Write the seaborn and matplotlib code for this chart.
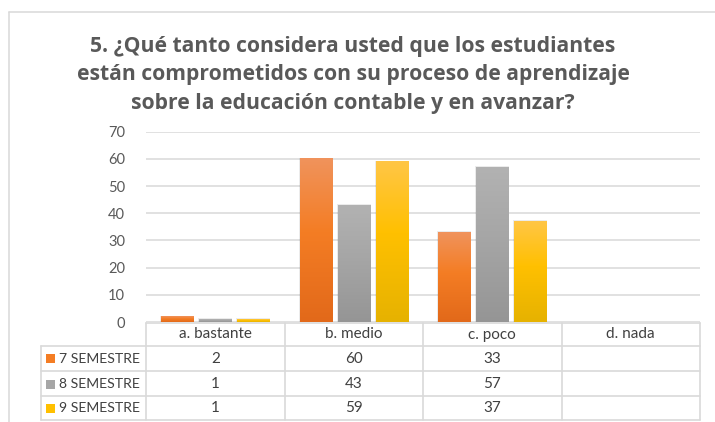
import numpy as np
import pandas as pd
import matplotlib
matplotlib.use("Agg")
import matplotlib.pyplot as plt
from matplotlib.colors import LinearSegmentedColormap
from matplotlib.lines import Line2D
from matplotlib.patches import Rectangle
import seaborn as sns

# ---- data ----
categories = ["a. bastante", "b. medio", "c. poco", "d. nada"]
series = ["7 SEMESTRE", "8 SEMESTRE", "9 SEMESTRE"]
sem7 = [2, 60, 33, np.nan]
sem8 = [1, 43, 57, np.nan]
sem9 = [1, 59, 37, np.nan]
y_ticks = [0, 10, 20, 30, 40, 50, 60, 70]
title_lines = ["5. ¿Qué tanto considera usted que los estudiantes",
               "están comprometidos con su proceso de aprendizaje",
               "sobre la educación contable y en avanzar?"]

base_colors = ["#ED7D31", "#A5A5A5", "#FFC000"]
grad_stops = [
    ["#E2691A", "#F47D24", "#F0935C"],  # bottom, mid, top
    ["#959595", "#A6A6A6", "#B2B2B2"],
    ["#E6B200", "#FFC000", "#FFC646"],
]

rows = []
for s, vals in zip(series, [sem7, sem8, sem9]):
    for c, v in zip(categories, vals):
        rows.append({"cat": c, "serie": s, "val": v})
df = pd.DataFrame(rows)

sns.set_theme(style="white")
plt.rcParams["font.family"] = ["Lato", "DejaVu Sans"]

W, H = 715, 422
fig = plt.figure(figsize=(W / 100, H / 100), dpi=100)
fig.patch.set_facecolor("white")

def fx(px):
    return px / W

def fy(py):
    return 1 - py / H

ax_left, ax_right, ax_top, ax_bot = 146, 700, 131.7, 322
ax = fig.add_axes([fx(ax_left), fy(ax_bot), fx(ax_right - ax_left), (ax_bot - ax_top) / H])

sns.barplot(data=df, x="cat", y="val", hue="serie", order=categories, hue_order=series,
            palette=base_colors, width=0.823, gap=0.157, ax=ax, legend=False,
            errorbar=None, saturation=1)

ax.set_xlim(-0.5, len(categories) - 0.5)
ax.set_ylim(0, 70)
ax.set_yticks(y_ticks)
ax.set_yticklabels([str(t) for t in y_ticks], color="#595959", fontsize=10.5)
ax.tick_params(axis="y", length=0, pad=15)
ax.set_xticks([])
ax.set_xlabel("")
ax.set_ylabel("")
for sp in ax.spines.values():
    sp.set_visible(False)
ax.grid(axis="y", color="#D9D9D9", linewidth=1.1)
ax.set_axisbelow(True)

# gradient bars
grad = np.linspace(0, 1, 256).reshape(-1, 1)
patches = list(ax.patches)
for i, p in enumerate(patches):
    h = p.get_height()
    if not np.isfinite(h) or h <= 0:
        continue
    color = p.get_facecolor()
    idx = int(np.argmin([np.sum((np.array(matplotlib.colors.to_rgb(c)) - np.array(color[:3])) ** 2)
                         for c in base_colors]))
    cmap = LinearSegmentedColormap.from_list("g%d" % i, [(0, grad_stops[idx][0]),
                                                         (0.55, grad_stops[idx][1]),
                                                         (1, grad_stops[idx][2])])
    x0 = p.get_x()
    x1 = x0 + p.get_width()
    ax.add_patch(Rectangle((x0 - 0.006, 0), p.get_width() + 0.012, h + 0.35,
                           facecolor="#000000", alpha=0.08, edgecolor="none", zorder=2))
    ax.imshow(grad, cmap=cmap, extent=(x0, x1, 0, h), origin="lower",
              aspect="auto", zorder=3, interpolation="bilinear")
    p.set_visible(False)
ax.set_xlim(-0.5, len(categories) - 0.5)
ax.set_ylim(0, 70)

# overlay for table, title, border
ov = fig.add_axes([0, 0, 1, 1], zorder=5)
ov.set_xlim(0, W)
ov.set_ylim(H, 0)
ov.axis("off")
ov.patch.set_alpha(0)

# outer chart border
ov.add_line(Line2D([9.3, 9.3], [11.7, H + 5], color="#D9D9D9", lw=1.1))
ov.add_line(Line2D([9.3, W + 5], [11.7, 11.7], color="#D9D9D9", lw=1.1))

# title
for k, line in enumerate(title_lines):
    ov.text(353, 52 + 28.3 * k, line, ha="center", va="baseline", fontsize=15.2,
            fontweight="bold", color="#595959", family=["Open Sans", "DejaVu Sans"])

# table
lc = "#D9D9D9"
col_bounds = [ax_left + (ax_right - ax_left) * k / len(categories) for k in range(len(categories) + 1)]
tab_left = 40.7
row_y = [322.5, 345.5, 371, 396, 419.5]
ov.add_line(Line2D([col_bounds[0], col_bounds[-1]], [row_y[0], row_y[0]], color=lc, lw=1.2))
for yy in row_y[1:]:
    ov.add_line(Line2D([tab_left, col_bounds[-1]], [yy, yy], color=lc, lw=1.2))
for xb in col_bounds:
    ov.add_line(Line2D([xb, xb], [row_y[0], row_y[-1]], color=lc, lw=1.2))
ov.add_line(Line2D([tab_left, tab_left], [row_y[1], row_y[-1]], color=lc, lw=1.2))

txt_color = "#404040"
for k, c in enumerate(categories):
    cx = (col_bounds[k] + col_bounds[k + 1]) / 2
    ov.text(cx, (row_y[0] + row_y[1]) / 2 + 0.5, c, ha="center", va="center",
            fontsize=11, color=txt_color)
for r, (s, vals) in enumerate(zip(series, [sem7, sem8, sem9])):
    cy = (row_y[r + 1] + row_y[r + 2]) / 2 + 0.5
    ov.add_patch(Rectangle((46.2, cy - 4.5), 9, 9, facecolor=grad_stops[r][1], edgecolor="none"))
    ov.text(59, cy, s, ha="left", va="center", fontsize=10.1, color=txt_color)
    for k, v in enumerate(vals):
        if np.isfinite(v):
            cx = (col_bounds[k] + col_bounds[k + 1]) / 2
            ov.text(cx, cy, "%d" % v, ha="center", va="center", fontsize=11, color=txt_color)

fig.savefig("out.png", dpi=100, facecolor="white")
